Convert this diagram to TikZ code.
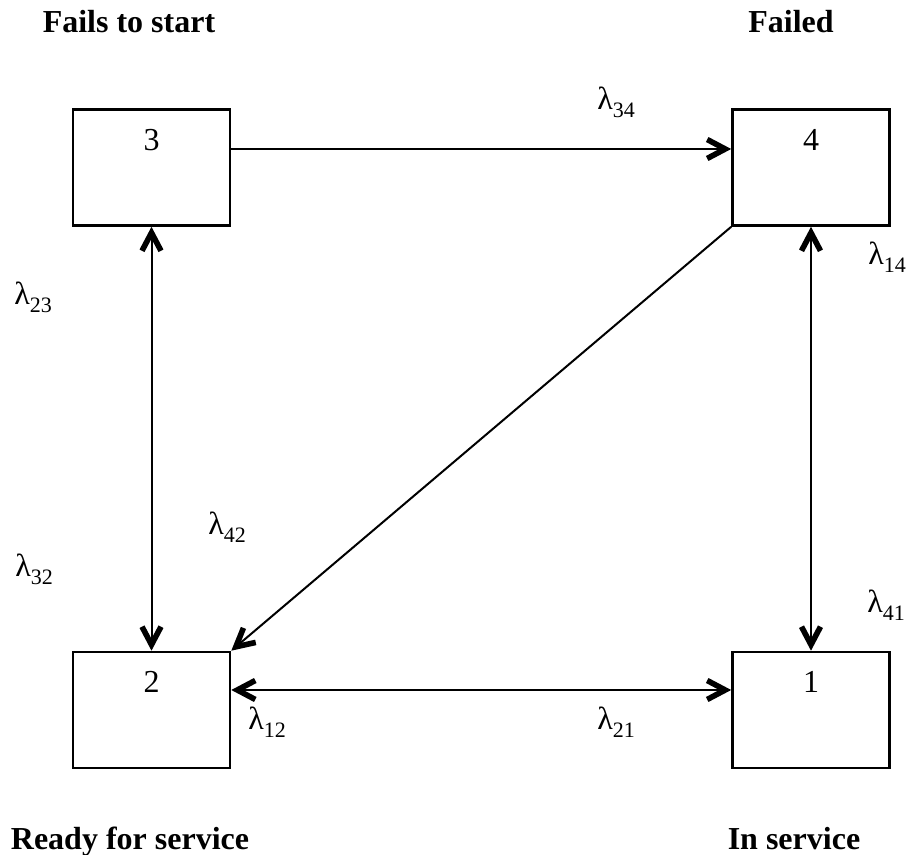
\documentclass[tikz,border=0pt]{standalone}
\usepackage{fontspec}
\setmainfont{Liberation Serif}
\usepackage{tikz}
\usetikzlibrary{arrows.meta}
\newcommand{\lrate}[1]{λ\raisebox{-4pt}{\fontsize{11}{13}\selectfont #1}}

\begin{document}
\begin{tikzpicture}[
  state/.style={draw,line width=1.3pt,minimum width=78.5pt,inner xsep=0pt,inner ysep=0pt,
    text height=20.3pt,text depth=37.7pt,font=\fontsize{16}{19}\selectfont},
  title/.style={anchor=base,inner sep=0pt,font=\fontsize{16}{19}\selectfont\bfseries},
  rate/.style={anchor=base west,inner sep=0pt,font=\fontsize{16}{19}\selectfont},
  link/.style={line width=1pt,-{Straight Barb[length=9pt,width=9.5pt,line width=2.8pt]}},
  dlink/.style={line width=1pt,{Straight Barb[length=9pt,width=9.5pt,line width=2.8pt]}-{Straight Barb[length=9pt,width=9.5pt,line width=2.8pt]}},
  x=0.5pt,y=-0.5pt]

  \useasboundingbox (0,0) rectangle (907,855);

  % states
  \node[state] (s3) at (151.5,167.5) {3};
  \node[state] (s4) at (811,167.5) {4};
  \node[state] (s2) at (151.5,710) {2};
  \node[state] (s1) at (811,710) {1};

  % state names
  \node[title] (t3) at (129,33) {Fails to start};
  \node[title] (t4) at (791,33) {Failed};
  \node[title] (t2) at (130,850) {Ready for service};
  \node[title] (t1) at (794,850) {In service};

  % transitions
  \draw[link] ([yshift=9.25pt]s3.east) -- ([yshift=9.25pt]s4.west);
  \draw[dlink] (s3.south) -- (s2.north);
  \draw[dlink] (s4.south) -- (s1.north);
  \draw[link] (s4.south west) -- (s2.north east);
  \draw[dlink] ([yshift=10pt]s2.east) -- ([yshift=10pt]s1.west);

  % rates
  \node[rate] (l34) at (597,110) {\lrate{34}};
  \node[rate] (l14) at (868,265) {\lrate{14}};
  \node[rate] (l23) at (14,305) {\lrate{23}};
  \node[rate] (l32) at (15,577) {\lrate{32}};
  \node[rate] (l42) at (208,535) {\lrate{42}};
  \node[rate] (l41) at (867,613) {\lrate{41}};
  \node[rate] (l12) at (248,730) {\lrate{12}};
  \node[rate] (l21) at (597,730) {\lrate{21}};
\end{tikzpicture}
\end{document}
